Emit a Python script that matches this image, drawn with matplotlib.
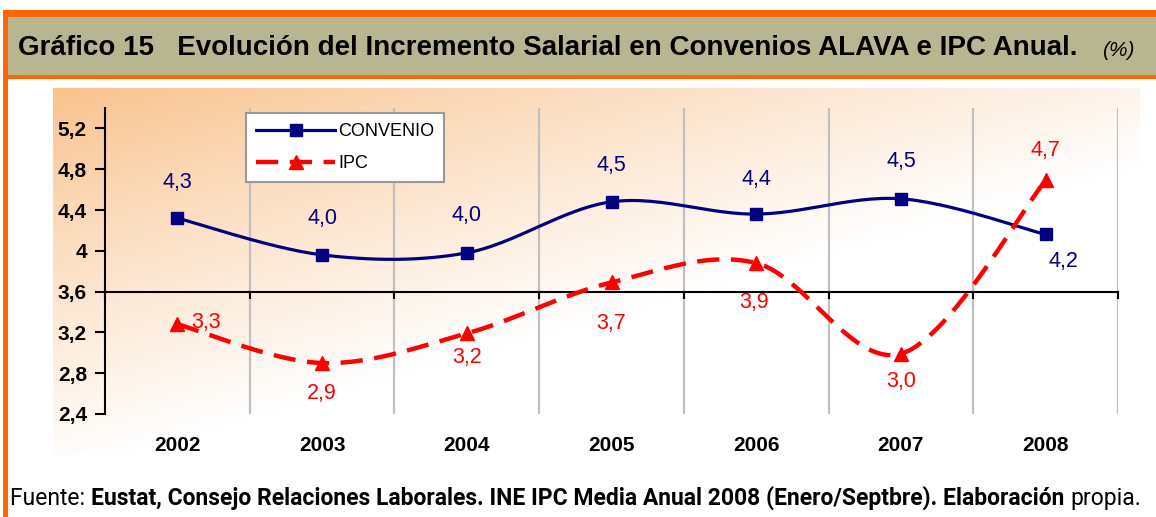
import numpy as np
import matplotlib
matplotlib.use("Agg")
import matplotlib.pyplot as plt
from matplotlib.patches import Rectangle
from matplotlib.lines import Line2D
import matplotlib.transforms as mtransforms

years = ["2002", "2003", "2004", "2005", "2006", "2007", "2008"]
convenio = [4.32, 3.96, 3.98, 4.48, 4.36, 4.51, 4.16]
ipc = [3.28, 2.90, 3.19, 3.69, 3.88, 2.99, 4.69]
y_ticks = [2.4, 2.8, 3.2, 3.6, 4.0, 4.4, 4.8, 5.2]
y_tick_labels = ["2,4", "2,8", "3,2", "3,6", "4", "4,4", "4,8", "5,2"]

title = "Gráfico 15   Evolución del Incremento Salarial en Convenios ALAVA e IPC Anual."
fuente_bold = "Eustat, Consejo Relaciones Laborales. INE IPC Media Anual 2008 (Enero/Septbre). Elaboración"

W, H = 1156, 517
NAVY = "#000080"
RED = "#FF0000"
ORANGE = "#FF6600"
OLIVE = "#B8B690"


def px(x, y):
    # pixel (top-left origin) -> figure fraction
    return x / W, 1 - y / H


def smooth(xs, ys, n=30):
    # Excel-like smoothed line (Catmull-Rom bezier)
    p = np.column_stack([xs, ys]).astype(float)
    ext = np.vstack([p[0], p, p[-1]])
    out = []
    for i in range(len(p) - 1):
        p0, p1, p2, p3 = ext[i], ext[i + 1], ext[i + 2], ext[i + 3]
        c1 = p1 + (p2 - p0) / 6
        c2 = p2 - (p3 - p1) / 6
        t = np.linspace(0, 1, n)[:, None]
        seg = (1 - t) ** 3 * p1 + 3 * (1 - t) ** 2 * t * c1 + 3 * (1 - t) * t ** 2 * c2 + t ** 3 * p2
        out.append(seg if i == 0 else seg[1:])
    out = np.vstack(out)
    return out[:, 0], out[:, 1]


fig = plt.figure(figsize=(W / 100, H / 100), dpi=100)
fig.patch.set_facecolor("white")

# header band and frame
fig.patches.append(Rectangle(px(3, 79), (W - 3) / W, 69 / H, transform=fig.transFigure,
                             facecolor=ORANGE, edgecolor="none", zorder=0))
fig.patches.append(Rectangle(px(8, 75), (W - 8) / W, 58 / H, transform=fig.transFigure,
                             facecolor=OLIVE, edgecolor="none", zorder=1))
fig.patches.append(Rectangle(px(3, H), 5 / W, (H - 10) / H, transform=fig.transFigure,
                             facecolor=ORANGE, edgecolor="none", zorder=1))

fig.text(18 / W, 1 - 48 / H, title, fontsize=20, fontweight="bold",
         family="Liberation Sans", va="center", ha="left")
fig.text(1135 / W, 1 - 51 / H, "(%)", fontsize=15, style="italic",
         family="Liberation Sans", va="center", ha="right")

# gradient background
bg = fig.add_axes([53 / W, 1 - 455 / H, (1140 - 53) / W, (455 - 88) / H])
u = np.linspace(0, 1, 300)[None, :]
v = np.linspace(0, 1, 150)[:, None]
t = np.clip(0.8 * u + 0.95 * v, 0, 1) ** 0.9
peach = np.array([249, 194, 140]) / 255
grad = peach[None, None, :] * (1 - t[..., None]) + np.ones(3)[None, None, :] * t[..., None]
bg.imshow(grad, aspect="auto", extent=[0, 1, 0, 1], origin="upper")
bg.axis("off")

# main axes
ax = fig.add_axes([105 / W, 1 - 414 / H, (1118 - 105) / W, (414 - 108) / H])
ax.patch.set_alpha(0)
x = np.arange(len(years))
ax.set_xlim(-0.5, len(years) - 0.5)
ax.set_ylim(2.4, 5.4)

for b in np.arange(0.5, len(years) + 0.5, 1):
    ax.axvline(b, color="#C0C0C0", lw=1.6, zorder=1)

ax.spines["top"].set_visible(False)
ax.spines["right"].set_visible(False)
ax.spines["left"].set_linewidth(1.5)
ax.spines["left"].set_bounds(2.4, 5.4)
ax.spines["bottom"].set_position(("data", 3.6))
ax.spines["bottom"].set_linewidth(1.5)
ax.set_xticks(np.arange(-0.5, len(years), 1))
ax.set_xticklabels([])
ax.tick_params(axis="x", direction="out", length=5, width=1.5)
ax.set_yticks(y_ticks)
ax.set_yticklabels(y_tick_labels, fontsize=15, fontweight="bold", family="Liberation Sans")
ax.tick_params(axis="y", direction="out", length=7, width=1.5, pad=6)

trans = mtransforms.blended_transform_factory(ax.transData, ax.transAxes)
for i, yr in enumerate(years):
    ax.text(i, -0.104, yr, transform=trans, ha="center", va="center",
            fontsize=15, fontweight="bold", family="Liberation Sans")

sx, sy = smooth(x, convenio)
ax.plot(sx, sy, color=NAVY, lw=2.3, zorder=3, solid_capstyle="butt")
ax.plot(x, convenio, ls="none", marker="s", ms=9, color=NAVY, zorder=4)

sx, sy = smooth(x, ipc)
ax.plot(sx, sy, color=RED, lw=3.2, zorder=3, dashes=(5, 2.6))
ax.plot(x, ipc, ls="none", marker="^", ms=10, color=RED, zorder=4)

conv_off = [(0, 36), (0, 36), (0, 37), (0, 36), (0, 35), (0, 37), (18, -27)]
ipc_off = [(29, 2), (0, -30), (0, -24), (0, -41), (-2, -39), (0, -28), (0, 30)]
for i, val in enumerate(convenio):
    ax.annotate(f"{val:.1f}".replace(".", ","), (i, val), xytext=conv_off[i],
                textcoords="offset pixels", ha="center", va="center",
                color=NAVY, fontsize=15.5, family="Liberation Sans", zorder=5)
for i, val in enumerate(ipc):
    ax.annotate(f"{val:.1f}".replace(".", ","), (i, val), xytext=ipc_off[i],
                textcoords="offset pixels", ha="center", va="center",
                color=RED, fontsize=15.5, family="Liberation Sans", zorder=5)

handles = [Line2D([], [], color=NAVY, lw=2.3, marker="s", ms=9),
           Line2D([], [], color=RED, lw=3.2, marker="^", ms=10, dashes=(5, 2.6))]
leg = fig.legend(handles, ["CONVENIO", "IPC"], loc="upper left",
                 bbox_to_anchor=px(246, 113), bbox_transform=fig.transFigure,
                 fancybox=False, framealpha=1, edgecolor="#999999",
                 handlelength=4.4, borderaxespad=0, borderpad=0.55,
                 labelspacing=0.85, handletextpad=0.15,
                 prop={"family": "Liberation Sans", "size": 13})
leg.get_frame().set_linewidth(1.5)

# source line
fig.canvas.draw()
r = fig.canvas.get_renderer()
xpos = 10 / W
y0 = 1 - 505 / H
for txt, w in [("Fuente: ", "normal"), (fuente_bold + " ", "bold"), ("propia.", "normal")]:
    tt = fig.text(xpos, y0, txt, fontsize=16.5, fontweight=w, family="Roboto",
                  va="baseline", ha="left")
    bb = tt.get_window_extent(r)
    xpos += bb.width / W

fig.savefig("out.png", dpi=100)
